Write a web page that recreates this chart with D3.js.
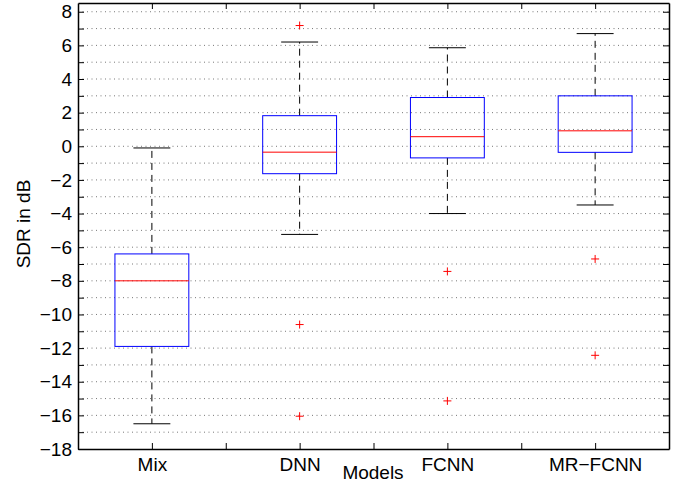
<!DOCTYPE html>
<html>
<head>
<meta charset="utf-8">
<script src="https://cdn.jsdelivr.net/npm/d3@7"></script>
<style>
  html, body { margin: 0; padding: 0; background: #fff; }
  svg { display: block; font-family: "Liberation Sans", Arial, Helvetica, sans-serif; }
</style>
</head>
<body>
<div id="chart"></div>
<script>
// SDR per model – MATLAB style box plot
const MODELS   = ["Mix", "DNN", "FCNN", "MR\u2212FCNN"];
const WHISK_HI = [-0.1, 6.2, 5.86, 6.7];
const Q3       = [-6.4, 1.82, 2.9, 3.0];
const MEDIAN   = [-8.0, -0.35, 0.57, 0.92];
const Q1       = [-11.9, -1.63, -0.69, -0.36];
const WHISK_LO = [-16.5, -5.24, -4.0, -3.49];
const OUTLIERS = [[], [7.18, -10.6, -16.05], [-7.44, -15.14], [-6.7, -12.43]];
const Y_TICKS  = [8, 6, 4, 2, 0, -2, -4, -6, -8, -10, -12, -14, -16, -18];

const totalW = 683, totalH = 484;
const margin = { top: 3, right: 14, bottom: 35, left: 78 };
const W = totalW - margin.left - margin.right;
const H = totalH - margin.top - margin.bottom;
const FS = 19;

const svg = d3.select("#chart").append("svg")
  .attr("width", totalW).attr("height", totalH);
const g = svg.append("g").attr("transform", `translate(${margin.left},${margin.top})`);

/* ── Scales ── */
const x = d3.scaleLinear().domain([0.5, MODELS.length + 0.5]).range([0, W]);
const y = d3.scaleLinear().domain([-18, 8.52]).range([H, 0]);
const fmt = d => (d < 0 ? "\u2212" + Math.abs(d) : "" + d);

/* ── Grid (dotted, every unit) ── */
g.append("g")
  .selectAll("line").data(d3.range(-17, 9))
  .join("line")
  .attr("x1", 0).attr("x2", W)
  .attr("y1", d => y(d)).attr("y2", d => y(d))
  .attr("stroke", "#555").attr("stroke-width", 0.8)
  .attr("stroke-dasharray", "1 3.5");

/* ── Boxes ── */
const boxW = x(1.25) - x(1), capW = x(1.125) - x(1);
const boxes = g.append("g").selectAll("g").data(MODELS).join("g");

boxes.each(function (m, i) {
  const b = d3.select(this), cx = x(i + 1);
  // whiskers
  b.append("line").attr("x1", cx).attr("x2", cx)
    .attr("y1", y(Q3[i])).attr("y2", y(WHISK_HI[i]))
    .attr("stroke", "#000").attr("stroke-dasharray", "7 5");
  b.append("line").attr("x1", cx).attr("x2", cx)
    .attr("y1", y(Q1[i])).attr("y2", y(WHISK_LO[i]))
    .attr("stroke", "#000").attr("stroke-dasharray", "7 5");
  // caps
  [WHISK_HI[i], WHISK_LO[i]].forEach(v => {
    b.append("line").attr("x1", cx - capW).attr("x2", cx + capW)
      .attr("y1", y(v)).attr("y2", y(v))
      .attr("stroke", "#000");
  });
  // box
  b.append("rect")
    .attr("x", cx - boxW).attr("width", 2 * boxW)
    .attr("y", y(Q3[i])).attr("height", y(Q1[i]) - y(Q3[i]))
    .attr("fill", "none").attr("stroke", "#0000ff");
  // median
  b.append("line").attr("x1", cx - boxW).attr("x2", cx + boxW)
    .attr("y1", y(MEDIAN[i])).attr("y2", y(MEDIAN[i]))
    .attr("stroke", "#ff0000");
  // outliers
  OUTLIERS[i].forEach(v => {
    b.append("path")
      .attr("d", `M${cx - 4},${y(v)}H${cx + 4}M${cx},${y(v) - 4}V${y(v) + 4}`)
      .attr("stroke", "#ff0000").attr("fill", "none");
  });
});

/* ── Axes ── */
const xTicks = d3.range(1, MODELS.length + 0.01, 0.5);
const styleAxis = ax => {
  ax.select(".domain").attr("stroke", "#000").attr("stroke-width", 1.5);
  ax.selectAll(".tick line").attr("stroke", "#000");
  ax.selectAll("text").attr("font-size", FS).attr("fill", "#000")
    .attr("font-family", "'Liberation Sans', Arial, sans-serif");
};

g.append("g").attr("transform", `translate(0,${H})`)
  .call(d3.axisBottom(x).tickValues(xTicks).tickSizeInner(-6).tickSizeOuter(0).tickPadding(9)
    .tickFormat(d => Number.isInteger(d) ? MODELS[d - 1] : ""))
  .call(styleAxis);
g.append("g")
  .call(d3.axisTop(x).tickValues(xTicks).tickSizeInner(-6).tickSizeOuter(0).tickFormat(""))
  .call(styleAxis);
g.append("g")
  .call(d3.axisLeft(y).tickValues(d3.range(-18, 9)).tickSizeInner(-6).tickSizeOuter(0).tickPadding(6)
    .tickFormat(d => Y_TICKS.includes(d) ? fmt(d) : ""))
  .call(styleAxis);
g.append("g").attr("transform", `translate(${W},0)`)
  .call(d3.axisRight(y).tickValues(d3.range(-18, 9)).tickSizeInner(-6).tickSizeOuter(0).tickFormat(""))
  .call(styleAxis);

/* ── Axis labels ── */
svg.append("text")
  .attr("x", 373).attr("y", 479)
  .attr("text-anchor", "middle").attr("font-size", FS)
  .text("Models");
svg.append("text")
  .attr("transform", "rotate(-90)").attr("x", -224).attr("y", 30)
  .attr("text-anchor", "middle").attr("font-size", FS)
  .text("SDR in dB");
</script>
</body>
</html>
